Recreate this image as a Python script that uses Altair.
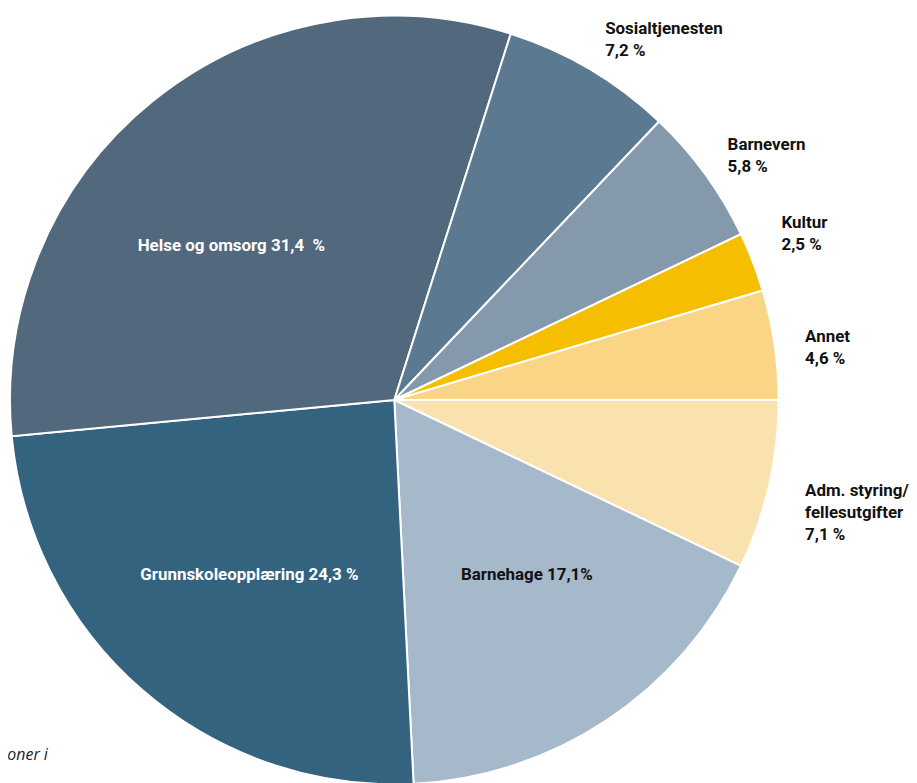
import math
import altair as alt
import pandas as pd

categories = ["Adm. styring/\nfellesutgifter", "Barnehage", "Grunnskoleopplæring", "Helse og omsorg",
              "Sosialtjenesten", "Barnevern", "Kultur", "Annet"]
values = [7.1, 17.1, 24.3, 31.4, 7.2, 5.8, 2.5, 4.6]
value_labels = ["7,1 %", "17,1%", "24,3 %", "31,4\u00a0 %", "7,2 %", "5,8 %", "2,5 %", "4,6 %"]
colors = ["#fae2ae", "#a6b9ca", "#33637f", "#52687c", "#5b7a91", "#8599ac", "#f5be00", "#fad585"]
inside = ["Barnehage", "Grunnskoleopplæring", "Helse og omsorg"]

df = pd.DataFrame({"cat": categories, "value": values, "order": list(range(len(categories))),
                   "vlabel": value_labels})

cx, cy = 388, 392
theta = alt.Theta("value:Q", stack=True, scale=alt.Scale(range=[math.pi / 2, math.pi / 2 + 2 * math.pi]))
order = alt.Order("order:Q")

base = alt.Chart(df).encode(theta=theta, order=order, x=alt.value(cx), y=alt.value(cy))

arcs = base.mark_arc(radius=386, stroke="white", strokeWidth=2).encode(
    color=alt.Color("cat:N", scale=alt.Scale(domain=categories, range=colors), legend=None)
)

font = "Roboto"
fsize = 17

# label nudges (style only)
inner_nudge = {"Helse og omsorg": (-23, 20, "white"),
               "Grunnskoleopplæring": (1, 6, "white"),
               "Barnehage": (9, -11, "#111111")}
outer_nudge = {"Sosialtjenesten": (-2, -11), "Barnevern": (-5, -9), "Kultur": (-3, -27),
               "Annet": (-3, -3), "Adm. styring/\nfellesutgifter": (3, -1)}

layers = [arcs]
for cat, (dx, dy, col) in inner_nudge.items():
    layers.append(base.mark_text(radius=224, font=font, fontSize=fsize, fontWeight="bold", align="center",
                                 baseline="middle", dx=dx, dy=dy, color=col).encode(
        text=alt.Text("t:N")).transform_calculate(
        t=f"datum.cat == {cat!r} ? datum.cat + ' ' + datum.vlabel : ''"))
for cat, (dx, dy) in outer_nudge.items():
    layers.append(base.mark_text(radius=420, font=font, fontSize=fsize, fontWeight="bold", align="left",
                                 baseline="middle", lineBreak="\n", lineHeight=22, dx=dx, dy=dy,
                                 color="#111111").encode(
        text=alt.Text("t:N")).transform_calculate(
        t=f"datum.cat == {cat!r} ? datum.cat + '\\n' + datum.vlabel : ''"))

note = alt.Chart(pd.DataFrame({"t": ["oner i"]})).mark_text(
    font="Open Sans", fontSize=16, fontStyle="italic", align="right", baseline="middle", color="#222222"
).encode(text="t:N", x=alt.value(40), y=alt.value(749))
layers.append(note)

chart = alt.layer(*layers).properties(
    width=905, height=775, padding=0, autosize=alt.AutoSizeParams(type="none")
).configure_view(stroke=None)

chart.save("out.html", embed_options={"renderer": "svg", "actions": False})
